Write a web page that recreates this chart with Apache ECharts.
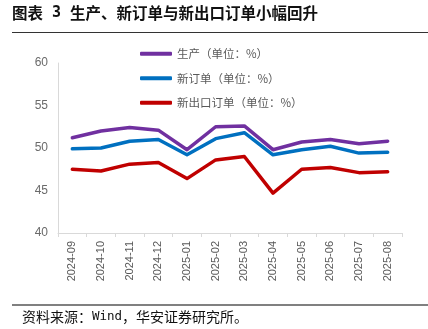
<!DOCTYPE html>
<html>
<head>
<meta charset="utf-8">
<script src="https://cdn.jsdelivr.net/npm/echarts@6/dist/echarts.min.js"></script>
<style>
  html, body { margin: 0; padding: 0; background: #fff; }
  #chart { width: 428px; height: 329px; }
</style>
</head>
<body>
<div id="chart"></div>
<script>
// Months on the category axis
const months = ['2024-09', '2024-10', '2024-11', '2024-12', '2025-01', '2025-02',
                '2025-03', '2025-04', '2025-05', '2025-06', '2025-07', '2025-08'];

// PMI sub-indices (%)
const production = [51.2, 52.0, 52.4, 52.1, 49.8, 52.5, 52.6, 49.8, 50.7, 51.0, 50.5, 50.8];
const newOrders = [49.9, 50.0, 50.8, 51.0, 49.2, 51.1, 51.8, 49.2, 49.8, 50.2, 49.4, 49.5];
const newExportOrders = [47.5, 47.3, 48.1, 48.3, 46.4, 48.6, 49.0, 44.7, 47.5, 47.7, 47.1, 47.2];

const seriesNames = ['生产（单位：%）', '新订单（单位：%）', '新出口订单（单位：%）'];
const yTicks = { min: 40, max: 60, step: 5 };

const titleParts = ['图表', ' 3 ', '生产、新订单与新出口订单小幅回升'];
const sourceParts = ['资料来源：', 'Wind', '，华安证券研究所。'];

const cjk = '"Noto Sans CJK SC", "Noto Sans", sans-serif';
const mono = '"DejaVu Sans Mono", "Liberation Mono", monospace';
const colors = ['#7030A0', '#0070C0', '#C00000'];

const chart = echarts.init(document.getElementById('chart'), null, { renderer: 'canvas' });

function lineSeries(name, data, color) {
  return {
    name: name,
    type: 'line',
    data: data,
    symbol: 'none',
    smooth: false,
    lineStyle: { color: color, width: 3.5, cap: 'round', join: 'round' },
    itemStyle: { color: color }
  };
}

chart.setOption({
  animation: false,
  textStyle: { fontFamily: cjk },
  grid: { left: 58, right: 26, top: 63, bottom: 96, containLabel: false },
  legend: {
    orient: 'vertical',
    left: 135,
    top: 43,
    itemWidth: 32,
    itemHeight: 4,
    itemGap: 13,
    icon: 'roundRect',
    textStyle: { color: '#595959', fontSize: 11.5, fontFamily: cjk },
    data: seriesNames
  },
  xAxis: {
    type: 'category',
    data: months,
    boundaryGap: true,
    axisLine: { show: true, lineStyle: { color: '#d9d9d9', width: 1 } },
    axisTick: { show: true, length: 4, lineStyle: { color: '#d9d9d9' } },
    axisLabel: {
      rotate: 90,
      color: '#595959',
      fontSize: 11,
      fontFamily: '"Liberation Sans", Arial, sans-serif',
      margin: 8,
      interval: 0
    },
    splitLine: { show: false }
  },
  yAxis: {
    type: 'value',
    min: yTicks.min,
    max: yTicks.max,
    interval: yTicks.step,
    axisLine: { show: true, lineStyle: { color: '#d9d9d9', width: 1 } },
    axisTick: { show: false },
    axisLabel: {
      color: '#6a6a6a',
      fontSize: 12,
      fontFamily: '"Liberation Sans", Arial, sans-serif',
      margin: 10
    },
    splitLine: { show: false }
  },
  series: [
    lineSeries(seriesNames[0], production, colors[0]),
    lineSeries(seriesNames[1], newOrders, colors[1]),
    lineSeries(seriesNames[2], newExportOrders, colors[2])
  ],
  graphic: [
    {
      type: 'text',
      left: 12,
      top: 5,
      style: {
        text: '{a|' + titleParts[0] + '}{b|' + titleParts[1] + '}{a|' + titleParts[2] + '}',
        rich: {
          a: { fill: '#111', fontSize: 15.5, fontWeight: 'bold', fontFamily: cjk },
          b: { fill: '#111', fontSize: 15, fontWeight: 'bold', fontFamily: mono }
        }
      }
    },
    {
      type: 'rect',
      shape: { x: 12, y: 32, width: 416, height: 1 },
      style: { fill: '#333' }
    },
    {
      type: 'rect',
      shape: { x: 12, y: 304, width: 416, height: 2 },
      style: { fill: '#808080' }
    },
    {
      type: 'text',
      left: 22,
      top: 310,
      style: {
        text: '{a|' + sourceParts[0] + '}{b|' + sourceParts[1] + '}{a|' + sourceParts[2] + '}',
        rich: {
          a: { fill: '#111', fontSize: 14, fontFamily: cjk },
          b: { fill: '#111', fontSize: 12.5, fontFamily: mono }
        }
      }
    }
  ]
});
</script>
</body>
</html>
